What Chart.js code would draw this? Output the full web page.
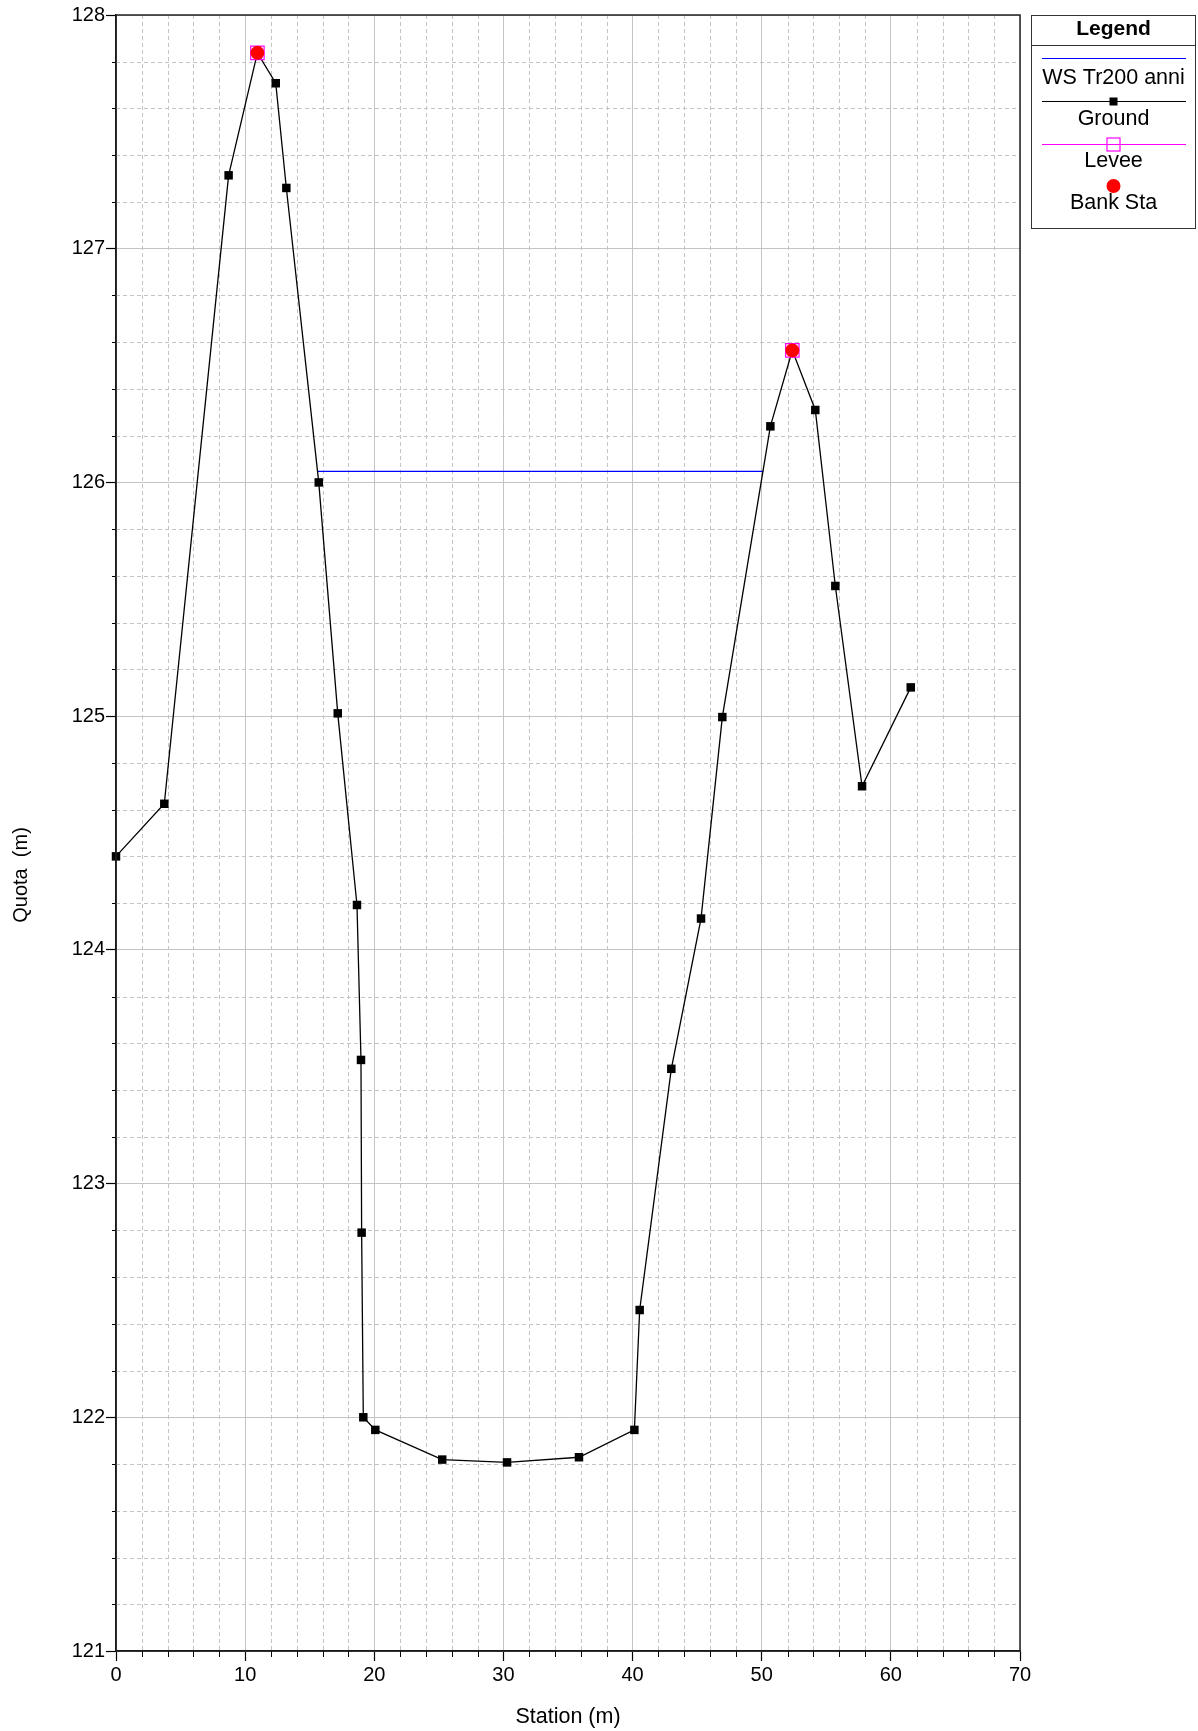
<!DOCTYPE html>
<html>
<head>
<meta charset="utf-8">
<script src="https://cdn.jsdelivr.net/npm/chart.js@4/dist/chart.umd.min.js"></script>
<style>
  html, body { margin: 0; padding: 0; background: #fff; }
  #wrap { width: 1198px; height: 1731px; position: relative; }
</style>
</head>
<body>
<div id="wrap"><canvas id="c" width="1198" height="1731"></canvas></div>
<script>
// ---- data ----
const stations   = [0, 3.74, 8.72, 10.95, 12.37, 13.19, 15.70, 17.17, 18.66, 18.97, 19.02, 19.15, 20.08, 25.26, 30.28, 35.85, 40.14, 40.55, 43.0, 45.30, 46.95, 50.67, 52.37, 54.15, 55.70, 57.77, 61.54];
const elevations = [124.40, 124.625, 127.314, 127.838, 127.708, 127.26, 126.0, 125.012, 124.192, 123.529, 122.79, 122.0, 121.946, 121.819, 121.807, 121.829, 121.946, 122.459, 123.491, 124.134, 124.996, 126.24, 126.565, 126.31, 125.557, 124.70, 125.123];
const wsStations = [15.62, 50.12];
const wsElev     = [126.047, 126.047];
const leveeStations = [10.95, 52.37];
const leveeElev     = [127.838, 126.565];
const bankStations  = [10.95, 52.37];
const bankElev      = [127.838, 126.565];
const xTicks = [0, 10, 20, 30, 40, 50, 60, 70];
const yTicks = [121, 122, 123, 124, 125, 126, 127, 128];
const xMinorStep = 2;
const yMinorStep = 0.2;
const seriesNames = ['WS Tr200 anni', 'Ground', 'Levee', 'Bank Sta'];
const xTitle = 'Station (m)';
const yTitle = 'Quota  (m)';

const FONT = '"Liberation Sans", Arial, sans-serif';
const pts = (xs, ys) => xs.map((x, i) => ({x, y: ys[i]}));

const gridPlugin = {
  id: 'minorGrid',
  beforeDatasetsDraw(chart) {
    const {ctx, chartArea: a, scales: {x, y}} = chart;
    ctx.save();
    ctx.strokeStyle = '#c4c4c4';
    ctx.lineWidth = 1;
    ctx.setLineDash([4, 3]);
    for (let v = xTicks[0]; v <= xTicks[xTicks.length - 1] + 1e-9; v += xMinorStep) {
      if (xTicks.some(t => Math.abs(t - v) < 1e-6)) continue;
      const px = Math.round(x.getPixelForValue(v)) + 0.5;
      ctx.beginPath(); ctx.moveTo(px, a.top); ctx.lineTo(px, a.bottom); ctx.stroke();
    }
    for (let i = 0; ; i++) {
      const v = yTicks[0] + i * yMinorStep;
      if (v > yTicks[yTicks.length - 1] + 1e-9) break;
      if (yTicks.some(t => Math.abs(t - v) < 1e-6)) continue;
      const py = Math.round(y.getPixelForValue(v)) + 0.5;
      ctx.beginPath(); ctx.moveTo(a.left, py); ctx.lineTo(a.right, py); ctx.stroke();
    }
    // minor tick marks
    ctx.setLineDash([]);
    ctx.strokeStyle = '#000';
    for (let v = xTicks[0]; v <= xTicks[xTicks.length - 1] + 1e-9; v += xMinorStep) {
      if (xTicks.some(t => Math.abs(t - v) < 1e-6)) continue;
      const px = Math.round(x.getPixelForValue(v)) + 0.5;
      ctx.beginPath(); ctx.moveTo(px, a.bottom); ctx.lineTo(px, a.bottom + 6); ctx.stroke();
    }
    for (let i = 0; ; i++) {
      const v = yTicks[0] + i * yMinorStep;
      if (v > yTicks[yTicks.length - 1] + 1e-9) break;
      if (yTicks.some(t => Math.abs(t - v) < 1e-6)) continue;
      const py = Math.round(y.getPixelForValue(v)) + 0.5;
      ctx.beginPath(); ctx.moveTo(a.left - 4, py); ctx.lineTo(a.left, py); ctx.stroke();
    }
    ctx.restore();
  },
  afterDraw(chart) {
    const {ctx, chartArea: a} = chart;
    ctx.save();
    // frame
    ctx.strokeStyle = '#222';
    ctx.lineWidth = 1.5;
    ctx.strokeRect(a.left, a.top, a.right - a.left, a.bottom - a.top);
    // axis titles
    ctx.fillStyle = '#000';
    ctx.textAlign = 'center';
    ctx.textBaseline = 'middle';
    ctx.font = '21.5px ' + FONT;
    ctx.fillText(xTitle, (a.left + a.right) / 2, 1717);
    ctx.font = '20px ' + FONT;
    ctx.save();
    ctx.translate(21, 875);
    ctx.rotate(-Math.PI / 2);
    ctx.fillText(yTitle, 0, 0);
    ctx.restore();

    // legend
    const L = 1031.5, R = 1195.5, T = 15.5, B = 228.5, cx = (L + R) / 2;
    ctx.strokeStyle = '#333';
    ctx.lineWidth = 1;
    ctx.strokeRect(L, T, R - L, B - T);
    ctx.beginPath(); ctx.moveTo(L, 45.5); ctx.lineTo(R, 45.5); ctx.stroke();
    ctx.font = 'bold 21px ' + FONT;
    ctx.fillText('Legend', cx, 29);
    ctx.font = '21.5px ' + FONT;
    const ds = chart.data.datasets;
    // WS
    ctx.strokeStyle = ds[0].borderColor; ctx.lineWidth = 1.2;
    ctx.beginPath(); ctx.moveTo(1042, 58.5); ctx.lineTo(1186, 58.5); ctx.stroke();
    ctx.fillText(ds[0].label, cx, 78);
    // Ground
    ctx.strokeStyle = '#000';
    ctx.beginPath(); ctx.moveTo(1042, 101.5); ctx.lineTo(1186, 101.5); ctx.stroke();
    ctx.fillStyle = '#000'; ctx.fillRect(cx - 4, 97.5, 8, 8);
    ctx.fillText(ds[1].label, cx, 119);
    // Levee
    ctx.strokeStyle = '#ff00ff';
    ctx.beginPath(); ctx.moveTo(1042, 144.5); ctx.lineTo(1186, 144.5); ctx.stroke();
    ctx.strokeRect(cx - 6.5, 138, 13, 13);
    ctx.fillText(ds[2].label, cx, 161);
    // Bank
    ctx.fillStyle = '#ff0000';
    ctx.beginPath(); ctx.arc(cx, 186, 7, 0, Math.PI * 2); ctx.fill();
    ctx.fillStyle = '#000';
    ctx.fillText(ds[3].label, cx, 203);
    ctx.restore();
  }
};

new Chart(document.getElementById('c'), {
  type: 'scatter',
  data: {
    datasets: [
      { label: seriesNames[0], data: pts(wsStations, wsElev), showLine: true, borderColor: '#0000ff', borderWidth: 1.2, pointRadius: 0, order: 3, clip: false },
      { label: seriesNames[1], data: pts(stations, elevations), showLine: true, borderColor: '#000', borderWidth: 1.3,
        pointStyle: 'rect', pointRadius: 6.0, pointBackgroundColor: '#000', pointBorderWidth: 0, order: 2, clip: false },
      { label: seriesNames[2], data: pts(leveeStations, leveeElev), showLine: false, pointStyle: 'rect', pointRadius: 9.5,
        pointBackgroundColor: 'rgba(0,0,0,0)', pointBorderColor: '#ff00ff', pointBorderWidth: 1.2, order: 1, clip: false },
      { label: seriesNames[3], data: pts(bankStations, bankElev), showLine: false, pointStyle: 'circle', pointRadius: 7,
        pointBackgroundColor: '#ff0000', pointBorderColor: '#ff0000', pointBorderWidth: 0, order: 0, clip: false }
    ]
  },
  options: {
    responsive: false,
    animation: false,
    layout: { padding: { left: 0, top: 15, right: 178, bottom: 0 } },
    plugins: { legend: { display: false }, tooltip: { enabled: false } },
    elements: { line: { tension: 0 } },
    scales: {
      x: {
        type: 'linear', min: xTicks[0], max: xTicks[xTicks.length - 1],
        afterBuildTicks: s => { s.ticks = xTicks.map(v => ({value: v})); },
        afterFit: s => { s.height = 80; },
        grid: { color: '#c4c4c4', lineWidth: 1, tickColor: '#000', tickLength: 10, tickWidth: 1.2 },
        border: { color: '#000', width: 1.5 },
        ticks: { color: '#000', font: { family: FONT, size: 20 }, padding: 2, maxRotation: 0 }
      },
      y: {
        type: 'linear', min: yTicks[0], max: yTicks[yTicks.length - 1],
        afterBuildTicks: s => { s.ticks = yTicks.map(v => ({value: v})); },
        afterFit: s => { s.width = 116; },
        grid: { color: '#c4c4c4', lineWidth: 1, tickColor: '#000', tickLength: 10, tickWidth: 1.2 },
        border: { color: '#000', width: 1.5 },
        ticks: { color: '#000', font: { family: FONT, size: 20 }, padding: 1 }
      }
    }
  },
  plugins: [gridPlugin]
});
</script>
</body>
</html>
